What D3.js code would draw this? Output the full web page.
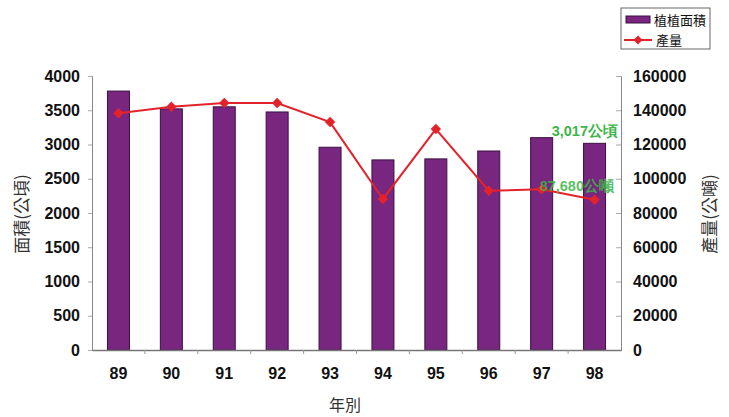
<!DOCTYPE html>
<html><head><meta charset="utf-8">
<script src="https://cdn.jsdelivr.net/npm/d3@7"></script>
<style>body{margin:0;background:#fff;}svg{display:block;}</style>
</head><body>
<svg id="c" width="729" height="417"></svg>
<script>
const years = ["89","90","91","92","93","94","95","96","97","98"];
const area = [3780, 3520, 3550, 3475, 2960, 2775, 2790, 2905, 3100, 3017];
const production = [138200, 142100, 144200, 144200, 133100, 88200, 129000, 93000, 93800, 87680];
const leftTicks = [0,500,1000,1500,2000,2500,3000,3500,4000];
const rightTicks = [0,20000,40000,60000,80000,100000,120000,140000,160000];

const svg = d3.select("#c");
const L = 92, R = 621, T = 76, B = 350;
const xc = d3.scaleBand().domain(years).range([L, R]);
const yL = d3.scaleLinear().domain([0, 4000]).range([B, T]);
const yR = d3.scaleLinear().domain([0, 160000]).range([B, T]);
const tickFont = "Liberation Sans, Arial, sans-serif";
const cjk = "'Noto Sans CJK TC', 'Noto Sans CJK SC', sans-serif";

// bars
svg.append("g").selectAll("rect").data(years).join("rect")
  .attr("x", d => xc(d) + xc.bandwidth()/2 - 11)
  .attr("width", 22)
  .attr("y", (d,i) => yL(area[i]))
  .attr("height", (d,i) => B - yL(area[i]))
  .attr("fill", "#78267f").attr("stroke", "#3a1040").attr("stroke-width", 1);

// left axis
const gL = svg.append("g").attr("transform", `translate(${L},0)`)
  .call(d3.axisLeft(yL).tickValues(leftTicks).tickSize(4).tickPadding(8).tickFormat(d3.format("d")));
gL.select(".domain").attr("stroke", "#888");
gL.selectAll(".tick line").attr("stroke", "#aaa");
gL.selectAll("text").attr("font-family", tickFont).attr("font-weight", "bold").attr("font-size", 16).attr("fill", "#111");

// right axis
const gR = svg.append("g").attr("transform", `translate(${R},0)`)
  .call(d3.axisRight(yR).tickValues(rightTicks).tickSize(-5).tickPadding(12).tickFormat(d3.format("d")));
gR.select(".domain").attr("stroke", "#888");
gR.selectAll(".tick line").attr("stroke", "#aaa");
gR.selectAll("text").attr("font-family", tickFont).attr("font-weight", "bold").attr("font-size", 16).attr("fill", "#111");

// x axis
const gX = svg.append("g").attr("transform", `translate(0,${B})`)
  .call(d3.axisBottom(xc).tickSize(0).tickPadding(18));
gX.select(".domain").attr("stroke", "#777").attr("stroke-width", 1.5);
gX.selectAll("text").attr("font-family", tickFont).attr("font-weight", "bold").attr("font-size", 16).attr("fill", "#111");
svg.append("g").selectAll("line").data(years.slice(1)).join("line")
  .attr("x1", d => xc(d)).attr("x2", d => xc(d)).attr("y1", B).attr("y2", B + 4)
  .attr("stroke", "#999");

// line
const line = d3.line().x((d,i) => xc(years[i]) + xc.bandwidth()/2).y(d => yR(d));
svg.append("path").datum(production).attr("d", line)
  .attr("fill", "none").attr("stroke", "#e3232b").attr("stroke-width", 2);
svg.append("g").selectAll("path").data(production).join("path")
  .attr("transform", (d,i) => `translate(${xc(years[i]) + xc.bandwidth()/2},${yR(d)})`)
  .attr("d", d3.symbol().type(d3.symbolDiamond2 || d3.symbolDiamond).size(70))
  .attr("fill", "#e3232b");

// annotations
svg.append("text").attr("x", 618).attr("y", 136).attr("text-anchor", "end")
  .attr("font-family", tickFont).attr("font-weight", "bold").attr("font-size", 14.5).attr("fill", "#3db54a")
  .text("3,017公頃");
svg.append("text").attr("x", 614).attr("y", 191).attr("text-anchor", "end")
  .attr("font-family", tickFont).attr("font-weight", "bold").attr("font-size", 14.5).attr("fill", "#3db54a")
  .attr("opacity", 0.85)
  .text("87,680公噸");

// axis titles
svg.append("text").attr("transform", "translate(28,214) rotate(-90)").attr("text-anchor", "middle")
  .attr("font-family", cjk).attr("font-size", 17).attr("fill", "#333").text("面積(公頃)");
svg.append("text").attr("transform", "translate(716,214) rotate(-90)").attr("text-anchor", "middle")
  .attr("font-family", cjk).attr("font-size", 17).attr("fill", "#333").text("產量(公噸)");
svg.append("text").attr("x", 345).attr("y", 411).attr("text-anchor", "middle")
  .attr("font-family", cjk).attr("font-size", 16).attr("fill", "#333").text("年別");

// legend
const lg = svg.append("g");
lg.append("rect").attr("x", 621).attr("y", 8).attr("width", 89).attr("height", 41)
  .attr("fill", "#fff").attr("stroke", "#666");
lg.append("rect").attr("x", 626).attr("y", 16).attr("width", 24).attr("height", 7)
  .attr("fill", "#78267f").attr("stroke", "#3a1040");
lg.append("text").attr("x", 654).attr("y", 25).attr("font-family", cjk).attr("font-size", 13).attr("fill", "#111").text("植植面積");
lg.append("line").attr("x1", 624).attr("x2", 652).attr("y1", 40).attr("y2", 40).attr("stroke", "#e3232b").attr("stroke-width", 2);
lg.append("path").attr("transform", "translate(638,40)").attr("d", d3.symbol().type(d3.symbolDiamond2 || d3.symbolDiamond).size(50)).attr("fill", "#e3232b");
lg.append("text").attr("x", 656).attr("y", 45).attr("font-family", cjk).attr("font-size", 13).attr("fill", "#111").text("產量");
</script>
</body></html>
